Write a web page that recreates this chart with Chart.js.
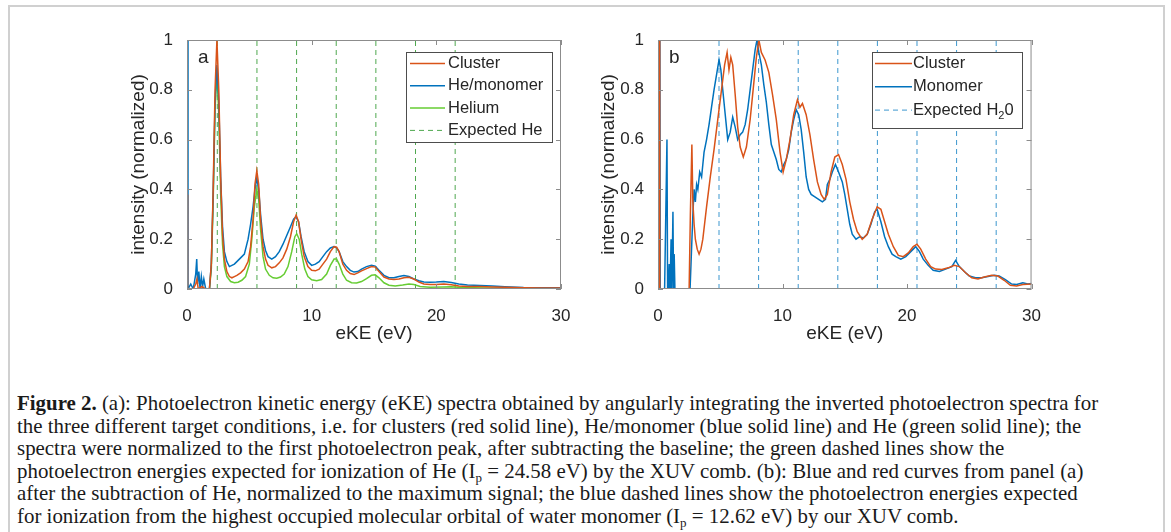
<!DOCTYPE html>
<html>
<head>
<meta charset="utf-8">
<script src="https://cdn.jsdelivr.net/npm/chart.js@4.4.0/dist/chart.umd.min.js"></script>
<style>
  body { margin: 0; background: #fff; width: 1171px; height: 532px; overflow: hidden; position: relative; }
  #frame { position: absolute; left: 8px; top: 5px; width: 1153px; height: 560px; border: 2px solid #d0d0d0; border-bottom: none; }
  .panel { position: absolute; top: 20px; }
  #pa { left: 120px; }
  #pb { left: 590px; }
  #cap { position: absolute; left: 17px; top: 392px; font-family: "Liberation Serif", "Times New Roman", serif;
         font-size: 20.9px; line-height: 22.6px; color: #1a1a1a; white-space: nowrap; }
  #cap sub { font-size: 13px; vertical-align: -4px; line-height: 0; }
</style>
</head>
<body>
<div id="frame"></div>
<canvas id="pa" class="panel" width="460" height="340"></canvas>
<canvas id="pb" class="panel" width="460" height="340"></canvas>
<div id="cap">
  <div><b>Figure 2.</b> (a): Photoelectron kinetic energy (eKE) spectra obtained by angularly integrating the inverted photoelectron spectra for</div>
  <div>the three different target conditions, i.e. for clusters (red solid line), He/monomer (blue solid line) and He (green solid line); the</div>
  <div>spectra were normalized to the first photoelectron peak, after subtracting the baseline; the green dashed lines show the</div>
  <div>photoelectron energies expected for ionization of He (I<sub>p</sub> = 24.58 eV) by the XUV comb. (b): Blue and red curves from panel (a)</div>
  <div>after the subtraction of He, normalized to the maximum signal; the blue dashed lines show the photoelectron energies expected</div>
  <div>for ionization from the highest occupied molecular orbital of water monomer (I<sub>p</sub> = 12.62 eV) by our XUV comb.</div>
</div>
<script>
// panel a: eKE (eV), intensity (normalized)
const clusterA = [
  [0, 0], [0.02, 0.38], [0.08, 0], [0.5, 0], [0.7, 0.02], [0.8, 0.04], [0.9, 0], [1.2, 0.01], [1.5, 0],
  [1.8, 0], [1.95, 0.1], [2.1, 0.4], [2.25, 0.8], [2.4, 1.0], [2.55, 0.8], [2.7, 0.45], [2.85, 0.22],
  [3.0, 0.12], [3.2, 0.07], [3.4, 0.05], [3.6, 0.045], [3.8, 0.05], [4.0, 0.055], [4.3, 0.065], [4.6, 0.08],
  [4.9, 0.11], [5.1, 0.17], [5.3, 0.28], [5.45, 0.42], [5.6, 0.475], [5.75, 0.42], [5.9, 0.28], [6.1, 0.17],
  [6.3, 0.12], [6.5, 0.095], [6.8, 0.085], [7.1, 0.09], [7.4, 0.105], [7.7, 0.125], [8.0, 0.16], [8.3, 0.21],
  [8.55, 0.27], [8.75, 0.297], [8.95, 0.27], [9.15, 0.2], [9.4, 0.13], [9.7, 0.09], [10.0, 0.075], [10.3, 0.073],
  [10.6, 0.08], [10.9, 0.1], [11.2, 0.12], [11.5, 0.15], [11.8, 0.17], [12.0, 0.168], [12.2, 0.15], [12.5, 0.1],
  [12.8, 0.075], [13.1, 0.062], [13.4, 0.058], [13.7, 0.065], [14.0, 0.073], [14.4, 0.082], [14.8, 0.09],
  [15.1, 0.088], [15.4, 0.07], [15.8, 0.048], [16.2, 0.04], [16.6, 0.038], [17.0, 0.04], [17.4, 0.045],
  [17.8, 0.047], [18.2, 0.04], [18.6, 0.028], [19.0, 0.02], [19.5, 0.018], [20.0, 0.018], [20.6, 0.02],
  [21.2, 0.017], [21.8, 0.012], [22.5, 0.01], [23.5, 0.01], [24.5, 0.008], [25.5, 0.007], [27, 0.005],
  [28.5, 0.004], [30, 0.004]
];
const monomerA = [
  [0.02, 1.1], [0.08, 0], [0.3, 0.02], [0.5, 0], [0.7, 0.06], [0.78, 0.12], [0.85, 0.02], [0.95, 0.07],
  [1.05, 0], [1.15, 0.05], [1.25, 0.01], [1.35, 0.04], [1.5, 0], [1.8, 0], [1.95, 0.1], [2.1, 0.38],
  [2.25, 0.75], [2.4, 0.9], [2.55, 0.75], [2.7, 0.45], [2.85, 0.25], [3.0, 0.15], [3.2, 0.11], [3.4, 0.09],
  [3.6, 0.095], [3.8, 0.1], [4.0, 0.11], [4.3, 0.125], [4.6, 0.14], [4.9, 0.2], [5.1, 0.26], [5.3, 0.33],
  [5.45, 0.4], [5.6, 0.445], [5.75, 0.4], [5.9, 0.3], [6.1, 0.2], [6.3, 0.155], [6.5, 0.13], [6.8, 0.12],
  [7.1, 0.13], [7.4, 0.15], [7.7, 0.18], [8.0, 0.215], [8.3, 0.25], [8.55, 0.28], [8.75, 0.29], [8.95, 0.27],
  [9.15, 0.21], [9.4, 0.15], [9.7, 0.11], [10.0, 0.095], [10.3, 0.1], [10.6, 0.11], [10.9, 0.13], [11.2, 0.15],
  [11.5, 0.165], [11.8, 0.17], [12.0, 0.165], [12.2, 0.15], [12.5, 0.11], [12.8, 0.09], [13.1, 0.075],
  [13.4, 0.068], [13.7, 0.07], [14.0, 0.08], [14.4, 0.09], [14.8, 0.095], [15.1, 0.092], [15.4, 0.075],
  [15.8, 0.055], [16.2, 0.045], [16.6, 0.045], [17.0, 0.05], [17.4, 0.054], [17.8, 0.05], [18.2, 0.04],
  [18.6, 0.033], [19.0, 0.028], [19.5, 0.027], [20.0, 0.028], [20.6, 0.03], [21.2, 0.026], [21.8, 0.02],
  [22.5, 0.016], [23.5, 0.014], [24.5, 0.012], [25.5, 0.009], [27, 0.006], [28.5, 0.005], [30, 0.005]
];
const heliumA = [
  [0.5, 0], [1.8, 0], [1.95, 0.08], [2.1, 0.35], [2.25, 0.72], [2.4, 0.87], [2.55, 0.7], [2.7, 0.38],
  [2.85, 0.18], [3.0, 0.09], [3.2, 0.05], [3.5, 0.03], [3.8, 0.025], [4.1, 0.027], [4.4, 0.035], [4.7, 0.05],
  [5.0, 0.1], [5.2, 0.2], [5.4, 0.33], [5.6, 0.4], [5.75, 0.36], [5.9, 0.24], [6.1, 0.13], [6.3, 0.08],
  [6.6, 0.055], [6.9, 0.045], [7.2, 0.043], [7.5, 0.048], [7.8, 0.06], [8.1, 0.09], [8.4, 0.15], [8.65, 0.21],
  [8.8, 0.222], [9.0, 0.2], [9.2, 0.14], [9.45, 0.08], [9.7, 0.05], [10.0, 0.037], [10.4, 0.033], [10.8, 0.038],
  [11.2, 0.06], [11.5, 0.095], [11.8, 0.12], [12.0, 0.12], [12.2, 0.1], [12.5, 0.06], [12.8, 0.035],
  [13.2, 0.025], [13.6, 0.024], [14.0, 0.03], [14.4, 0.042], [14.8, 0.055], [15.1, 0.057], [15.4, 0.045],
  [15.8, 0.025], [16.2, 0.015], [16.7, 0.012], [17.3, 0.016], [17.8, 0.02], [18.2, 0.018], [18.7, 0.01],
  [19.5, 0.007], [20.5, 0.008], [21.2, 0.009], [22, 0.006], [24, 0.004], [27, 0.003], [30, 0.003]
];
const expectedHe = [2.43, 5.61, 8.79, 11.97, 15.15, 18.33, 21.51];

// panel b
const clusterB = [
  [0.08, 0], [0.1, 1.1], [0.14, 0], [2.5, 0], [2.6, 0.3], [2.72, 0.58], [2.8, 0.35], [2.9, 0.26], [3.0, 0.2],
  [3.15, 0.16], [3.3, 0.14], [3.45, 0.16], [3.6, 0.2], [3.9, 0.33], [4.2, 0.45], [4.5, 0.56], [4.8, 0.68],
  [5.1, 0.8], [5.35, 0.9], [5.55, 0.95], [5.7, 0.88], [5.85, 0.93], [6.0, 0.9], [6.2, 0.78], [6.4, 0.65],
  [6.6, 0.57], [6.85, 0.53], [7.1, 0.57], [7.4, 0.68], [7.7, 0.83], [7.9, 0.93], [8.1, 1.0], [8.3, 0.95],
  [8.6, 0.92], [8.9, 0.87], [9.2, 0.78], [9.5, 0.68], [9.8, 0.55], [10.05, 0.47], [10.3, 0.52], [10.6, 0.6],
  [10.9, 0.7], [11.2, 0.76], [11.4, 0.73], [11.6, 0.745], [11.9, 0.7], [12.2, 0.62], [12.5, 0.52], [12.8, 0.43],
  [13.1, 0.38], [13.35, 0.36], [13.6, 0.38], [13.9, 0.47], [14.2, 0.53], [14.5, 0.54], [14.8, 0.5], [15.1, 0.44],
  [15.4, 0.35], [15.7, 0.28], [16.0, 0.23], [16.4, 0.2], [16.8, 0.22], [17.2, 0.28], [17.6, 0.33], [17.9, 0.32],
  [18.2, 0.27], [18.5, 0.22], [18.9, 0.17], [19.3, 0.135], [19.7, 0.13], [20.1, 0.145], [20.5, 0.17], [20.8, 0.18],
  [21.1, 0.16], [21.5, 0.12], [21.9, 0.09], [22.3, 0.08], [22.8, 0.078], [23.3, 0.085], [23.8, 0.095], [24.2, 0.09],
  [24.7, 0.065], [25.2, 0.045], [25.7, 0.04], [26.2, 0.048], [26.8, 0.055], [27.3, 0.052], [27.8, 0.035],
  [28.3, 0.015], [28.8, 0.012], [29.3, 0.018], [30, 0.02]
];
const monomerB = [
  [0.12, 0], [0.15, 1.1], [0.18, 0], [0.5, -0.1], [0.72, 0.6], [0.78, -0.1], [0.9, 0.1], [0.95, -0.05],
  [1.05, 0.2], [1.1, -0.05], [1.2, 0.31], [1.25, 0], [1.3, 0.14], [1.4, -0.1], [2.5, -0.1], [2.65, 0.1],
  [2.8, 0.3], [2.9, 0.4], [3.0, 0.35], [3.1, 0.42], [3.2, 0.4], [3.35, 0.47], [3.5, 0.45], [3.7, 0.55],
  [3.9, 0.6], [4.1, 0.66], [4.3, 0.73], [4.5, 0.8], [4.7, 0.86], [4.9, 0.92], [5.05, 0.88], [5.2, 0.8],
  [5.4, 0.7], [5.6, 0.6], [5.8, 0.63], [6.0, 0.69], [6.2, 0.65], [6.4, 0.6], [6.6, 0.62], [6.8, 0.63],
  [7.0, 0.66], [7.2, 0.72], [7.4, 0.8], [7.6, 0.88], [7.8, 0.96], [7.95, 1.0], [8.1, 0.95], [8.3, 0.9],
  [8.5, 0.82], [8.7, 0.75], [8.9, 0.66], [9.1, 0.58], [9.3, 0.55], [9.5, 0.52], [9.7, 0.48], [9.9, 0.47],
  [10.1, 0.5], [10.3, 0.52], [10.5, 0.56], [10.7, 0.63], [10.9, 0.68], [11.1, 0.72], [11.3, 0.7], [11.5, 0.64],
  [11.7, 0.55], [11.9, 0.45], [12.1, 0.4], [12.3, 0.38], [12.6, 0.37], [12.9, 0.36], [13.2, 0.35], [13.45, 0.36],
  [13.6, 0.42], [13.8, 0.44], [14.0, 0.47], [14.25, 0.5], [14.5, 0.47], [14.8, 0.43], [15.0, 0.38], [15.2, 0.32],
  [15.4, 0.26], [15.6, 0.22], [15.9, 0.2], [16.2, 0.21], [16.5, 0.205], [16.8, 0.22], [17.1, 0.26], [17.4, 0.31],
  [17.6, 0.32], [17.9, 0.27], [18.2, 0.21], [18.5, 0.17], [18.8, 0.14], [19.1, 0.13], [19.5, 0.12], [19.9, 0.13],
  [20.3, 0.15], [20.7, 0.17], [21.0, 0.15], [21.3, 0.12], [21.7, 0.095], [22.1, 0.075], [22.6, 0.07], [23.1, 0.08],
  [23.6, 0.09], [23.9, 0.115], [24.2, 0.09], [24.6, 0.07], [25.0, 0.052], [25.5, 0.045], [26.0, 0.045],
  [26.5, 0.05], [27.0, 0.055], [27.4, 0.052], [27.9, 0.038], [28.4, 0.02], [28.8, 0.018], [29.3, 0.025],
  [29.7, 0.02], [30, 0.022]
];
const expectedH2O = [4.9, 8.08, 11.26, 14.44, 17.62, 20.8, 23.98, 27.16];

const xTicks = [0, 10, 20, 30];
const yTicks = [0, 0.2, 0.4, 0.6, 0.8, 1];

const ORANGE = '#d95319';
const BLUE = '#0072bd';
const GREEN = '#66cc33';
const GREEN_DASH = '#4fa84f';
const BLUE_DASH = '#3d97cf';
const TEXT = '#262626';
const FONT = '"Liberation Sans", Arial, sans-serif';

function pts(arr) {
  return arr.map(p => ({ x: p[0], y: p[1] }));
}

function curve(label, arr, color) {
  return { label: label, data: pts(arr), borderColor: color, borderWidth: 1.5, pointRadius: 0, tension: 0, fill: false };
}

function dashLines(label, xs, color) {
  return xs.map((v, i) => ({
    label: i === 0 ? label : '',
    data: [{ x: v, y: 0 }, { x: v, y: 1 }],
    borderColor: color, borderWidth: 1, borderDash: [5, 4], pointRadius: 0, fill: false
  }));
}

// box, inward ticks, panel letter and boxed legend
const framePlugin = {
  id: 'frame',
  afterDatasetsDraw(chart, args, opts) {
    const ctx = chart.ctx;
    const a = chart.chartArea;
    const sx = chart.scales.x, sy = chart.scales.y;
    ctx.save();
    ctx.strokeStyle = '#8c8c8c';
    ctx.lineWidth = 1;
    ctx.setLineDash([]);
    ctx.strokeRect(a.left + 0.5, a.top + 0.5, a.right - a.left - 1, a.bottom - a.top - 1);
    ctx.beginPath();
    xTicks.forEach(v => {
      const px = Math.round(sx.getPixelForValue(v)) + 0.5;
      ctx.moveTo(px, a.bottom); ctx.lineTo(px, a.bottom - 5);
      ctx.moveTo(px, a.top); ctx.lineTo(px, a.top + 5);
    });
    yTicks.forEach(v => {
      const py = Math.round(sy.getPixelForValue(v)) + 0.5;
      ctx.moveTo(a.left, py); ctx.lineTo(a.left + 5, py);
      ctx.moveTo(a.right, py); ctx.lineTo(a.right - 5, py);
    });
    ctx.stroke();

    ctx.fillStyle = TEXT;
    ctx.font = '19px ' + FONT;
    ctx.textBaseline = 'alphabetic';
    ctx.fillText(opts.letter, a.left + opts.letterDx, a.top + 23);

    // legend
    const lg = opts.legend;
    const bx = a.left + lg.dx, by = a.top + lg.dy;
    ctx.fillStyle = '#fff';
    ctx.fillRect(bx, by, lg.w, lg.h);
    ctx.strokeStyle = '#4d4d4d';
    ctx.strokeRect(bx + 0.5, by + 0.5, lg.w, lg.h);
    ctx.font = '16.5px ' + FONT;
    ctx.textBaseline = 'middle';
    lg.items.forEach((di, i) => {
      const ds = chart.data.datasets[di];
      const cy = by + lg.first + i * lg.step;
      ctx.strokeStyle = ds.borderColor;
      ctx.lineWidth = ds.borderWidth;
      ctx.setLineDash(ds.borderDash || []);
      ctx.beginPath();
      ctx.moveTo(bx + lg.lx0, cy); ctx.lineTo(bx + lg.lx1, cy);
      ctx.stroke();
      ctx.setLineDash([]);
      ctx.fillStyle = TEXT;
      let tx = bx + lg.tx;
      ds.label.split(/(₂)/).forEach(part => {
        if (part === '₂') {
          ctx.font = '11px ' + FONT;
          ctx.fillText('2', tx, cy + 6);
          tx += ctx.measureText('2').width;
          ctx.font = '16.5px ' + FONT;
        } else if (part) {
          ctx.fillText(part, tx, cy);
          tx += ctx.measureText(part).width;
        }
      });
    });
    ctx.restore();
  }
};

function makeChart(id, datasets, yWidth, padRight, letter, legend) {
  return new Chart(document.getElementById(id), {
    type: 'line',
    data: { datasets: datasets },
    options: {
      responsive: false,
      animation: false,
      layout: { padding: { top: 20, right: padRight, left: 0, bottom: 0 } },
      scales: {
        x: {
          type: 'linear', min: 0, max: 30,
          afterFit: s => { s.height = 71; },
          afterBuildTicks: s => { s.ticks = xTicks.map(v => ({ value: v })); },
          grid: { display: false }, border: { display: false },
          ticks: { color: TEXT, font: { family: FONT, size: 17 }, padding: 9, maxRotation: 0, callback: v => String(v) },
          title: { display: true, text: 'eKE (eV)', color: TEXT, font: { family: FONT, size: 19 }, padding: { top: 0, bottom: 15 } }
        },
        y: {
          min: 0, max: 1,
          afterFit: s => { s.width = yWidth; },
          afterBuildTicks: s => { s.ticks = yTicks.map(v => ({ value: v })); },
          grid: { display: false }, border: { display: false },
          ticks: { color: TEXT, font: { family: FONT, size: 17 }, padding: 6, callback: v => String(v) },
          title: { display: true, text: 'intensity (normalized)', color: TEXT, font: { family: FONT, size: 19 }, padding: { top: 7, bottom: 0 } }
        }
      },
      plugins: {
        legend: { display: false },
        tooltip: { enabled: false },
        frame: { letter: letter, letterDx: 11, legend: legend }
      }
    },
    plugins: [framePlugin]
  });
}

makeChart('pa',
  [curve('Cluster', clusterA, ORANGE), curve('He/monomer', monomerA, BLUE), curve('Helium', heliumA, GREEN)]
    .concat(dashLines('Expected He', expectedHe, GREEN_DASH)),
  67, 19, 'a',
  { dx: 219, dy: 12, w: 146, h: 90, first: 11.5, step: 22.3, lx0: 4, lx1: 39, tx: 42, items: [0, 1, 2, 3] });

makeChart('pb',
  [curve('Cluster', clusterB, ORANGE), curve('Monomer', monomerB, BLUE)]
    .concat(dashLines('Expected H₂0', expectedH2O, BLUE_DASH)),
  68, 17, 'b',
  { dx: 214, dy: 12, w: 150, h: 76, first: 11.5, step: 23.3, lx0: 3, lx1: 40, tx: 41, items: [0, 1, 2] });
</script>
</body>
</html>
